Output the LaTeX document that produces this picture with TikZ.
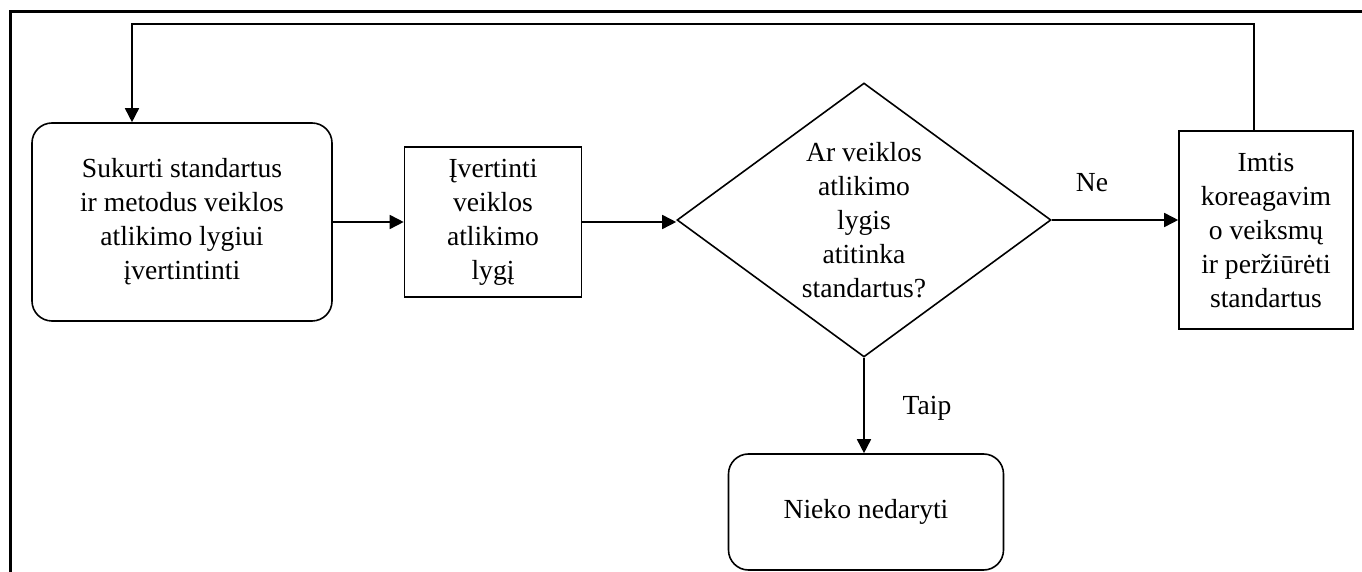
\documentclass[tikz,border=0pt]{standalone}
\usepackage{fontspec}
\setmainfont{Liberation Serif}
\usetikzlibrary{shapes.geometric,arrows.meta}

\begin{document}
\begin{tikzpicture}[x=0.5pt,y=-0.5pt,
    every node/.style={font=\fontsize{13.8}{17}\selectfont, align=center},
    box/.style={draw, line width=0.8pt, inner sep=0pt},
    roundbox/.style={box, rounded corners=10pt},
    decision/.style={box, diamond, aspect=1.36, minimum width=187pt, minimum height=137pt},
    line/.style={draw, line width=0.8pt, -{Triangle[length=7pt,width=7pt]}}]
    \useasboundingbox (0,0) rectangle (1362,572);
    % frame
    \draw[black, line width=1.5pt] (10,572) -- (10,12) -- (1362,12);

    % steps
    \node[roundbox, minimum width=150pt, minimum height=99pt] (sukurti) at (182,222)
        {Sukurti standartus\\ ir metodus veiklos\\ atlikimo lygiui\\ įvertintinti};
    \node[box, minimum width=88.5pt, minimum height=75pt] (ivertinti) at (493,222)
        {Įvertinti\\ veiklos\\ atlikimo\\ lygį};
    \node[decision] (klausimas) at (864,220)
        {Ar veiklos\\ atlikimo\\ lygis\\ atitinka\\ standartus?};
    \node[box, minimum width=87pt, minimum height=99pt] (imtis) at (1266,230)
        {Imtis\\ koreagavim\\ o veiksmų\\ ir peržiūrėti\\ standartus};
    \node[roundbox, minimum width=137.5pt, minimum height=58pt] (nieko) at (866,512)
        {Nieko nedaryti};

    \node (ne) at (1092,183) {Ne};
    \node (taip) at (927,408) {Taip};

    % arrows
    \draw[line] (sukurti.east) -- (ivertinti.west);
    \draw[line] (ivertinti.east) -- (ivertinti.east -| klausimas.west);
    \draw[line] (klausimas.east) -- (klausimas.east -| imtis.west);
    \draw[line] (klausimas.south) -- (klausimas.south |- nieko.north);

    % back to the start
    \coordinate (loopR) at (1254,24);
    \coordinate (loopL) at (132,24);
    \draw[line] (imtis.north -| loopR) -- (loopR) -- (loopL) -- (loopL |- sukurti.north);
\end{tikzpicture}
\end{document}
